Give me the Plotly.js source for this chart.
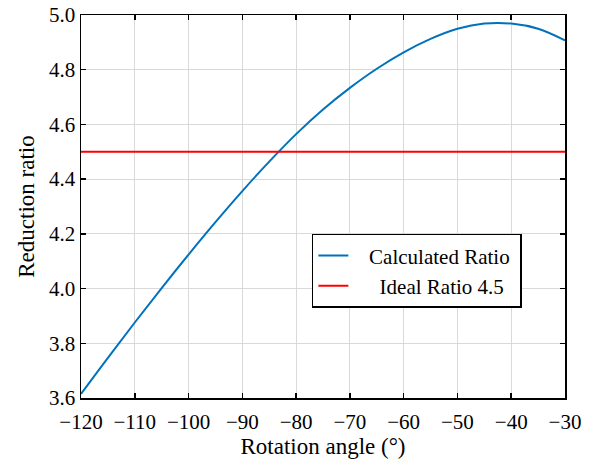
<!DOCTYPE html>
<html>
<head>
<meta charset="utf-8">
<script src="https://cdn.plot.ly/plotly-3.0.1.min.js"></script>
<style>html,body{margin:0;padding:0;background:#fff;}</style>
</head>
<body>
<div id="chart" style="width:589px;height:459px;"></div>
<script>
const angles = [-120, -115, -110, -105, -100, -95, -90, -85, -80, -75, -70, -65, -60, -55, -50, -45, -40, -35, -30];
const calcRatio = [3.615, 3.747, 3.876, 4.002, 4.1245, 4.243, 4.3565, 4.464, 4.5645, 4.6545, 4.7335, 4.8035, 4.8635, 4.9125, 4.9495, 4.9685, 4.9685, 4.9495, 4.907];
const idealX = [-120, -30];
const idealRatio = [4.5, 4.5];
const xTicks = [-120, -110, -100, -90, -80, -70, -60, -50, -40, -30];
const yTicks = [3.6, 3.8, 4.0, 4.2, 4.4, 4.6, 4.8, 5.0];
const seriesNames = ['Calculated Ratio', 'Ideal Ratio 4.5'];

const font = {family: '"Liberation Serif", "Times New Roman", serif', color: '#000'};
const nb = n => '\u00A0'.repeat(n);

const traces = [
  {x: angles, y: calcRatio, type: 'scatter', mode: 'lines', name: nb(3) + seriesNames[0] + nb(1),
   line: {color: '#0072BD', width: 2, shape: 'spline', smoothing: 1}},
  {x: idealX, y: idealRatio, type: 'scatter', mode: 'lines', name: nb(5) + seriesNames[1],
   line: {color: '#FF0000', width: 2}}
];

const axisCommon = {
  showline: true, linecolor: '#000', linewidth: 1.5, mirror: 'ticks',
  ticks: 'inside', ticklen: 5, tickwidth: 1.5, tickcolor: '#000',
  showgrid: true, gridcolor: '#d9d9d9', gridwidth: 1, zeroline: false,
  tickfont: Object.assign({size: 21}, font)
};

const layout = {
  width: 589, height: 459,
  margin: {l: 81, r: 24, t: 15, b: 61},
  paper_bgcolor: '#fff', plot_bgcolor: '#fff',
  font: font,
  showlegend: true,
  legend: {x: 0.477, y: 0.332, xanchor: 'left', yanchor: 'middle',
    bordercolor: '#000', borderwidth: 1.5, bgcolor: '#fff',
    font: Object.assign({size: 21}, font), tracegroupgap: 0},
  xaxis: Object.assign({}, axisCommon, {
    range: [-120, -30], tickvals: xTicks, ticktext: xTicks.map(v => '\u2212' + Math.abs(v)),
    ticklabelstandoff: 4,
    title: {text: 'Rotation angle (°)', font: Object.assign({size: 23}, font), standoff: 2}
  }),
  yaxis: Object.assign({}, axisCommon, {
    range: [3.6, 5.0], tickvals: yTicks, ticktext: yTicks.map(v => v.toFixed(1)),
    title: {text: 'Reduction ratio', font: Object.assign({size: 23}, font), standoff: 8}
  })
};

Plotly.newPlot('chart', traces, layout, {displayModeBar: false, staticPlot: true});
</script>
</body>
</html>
